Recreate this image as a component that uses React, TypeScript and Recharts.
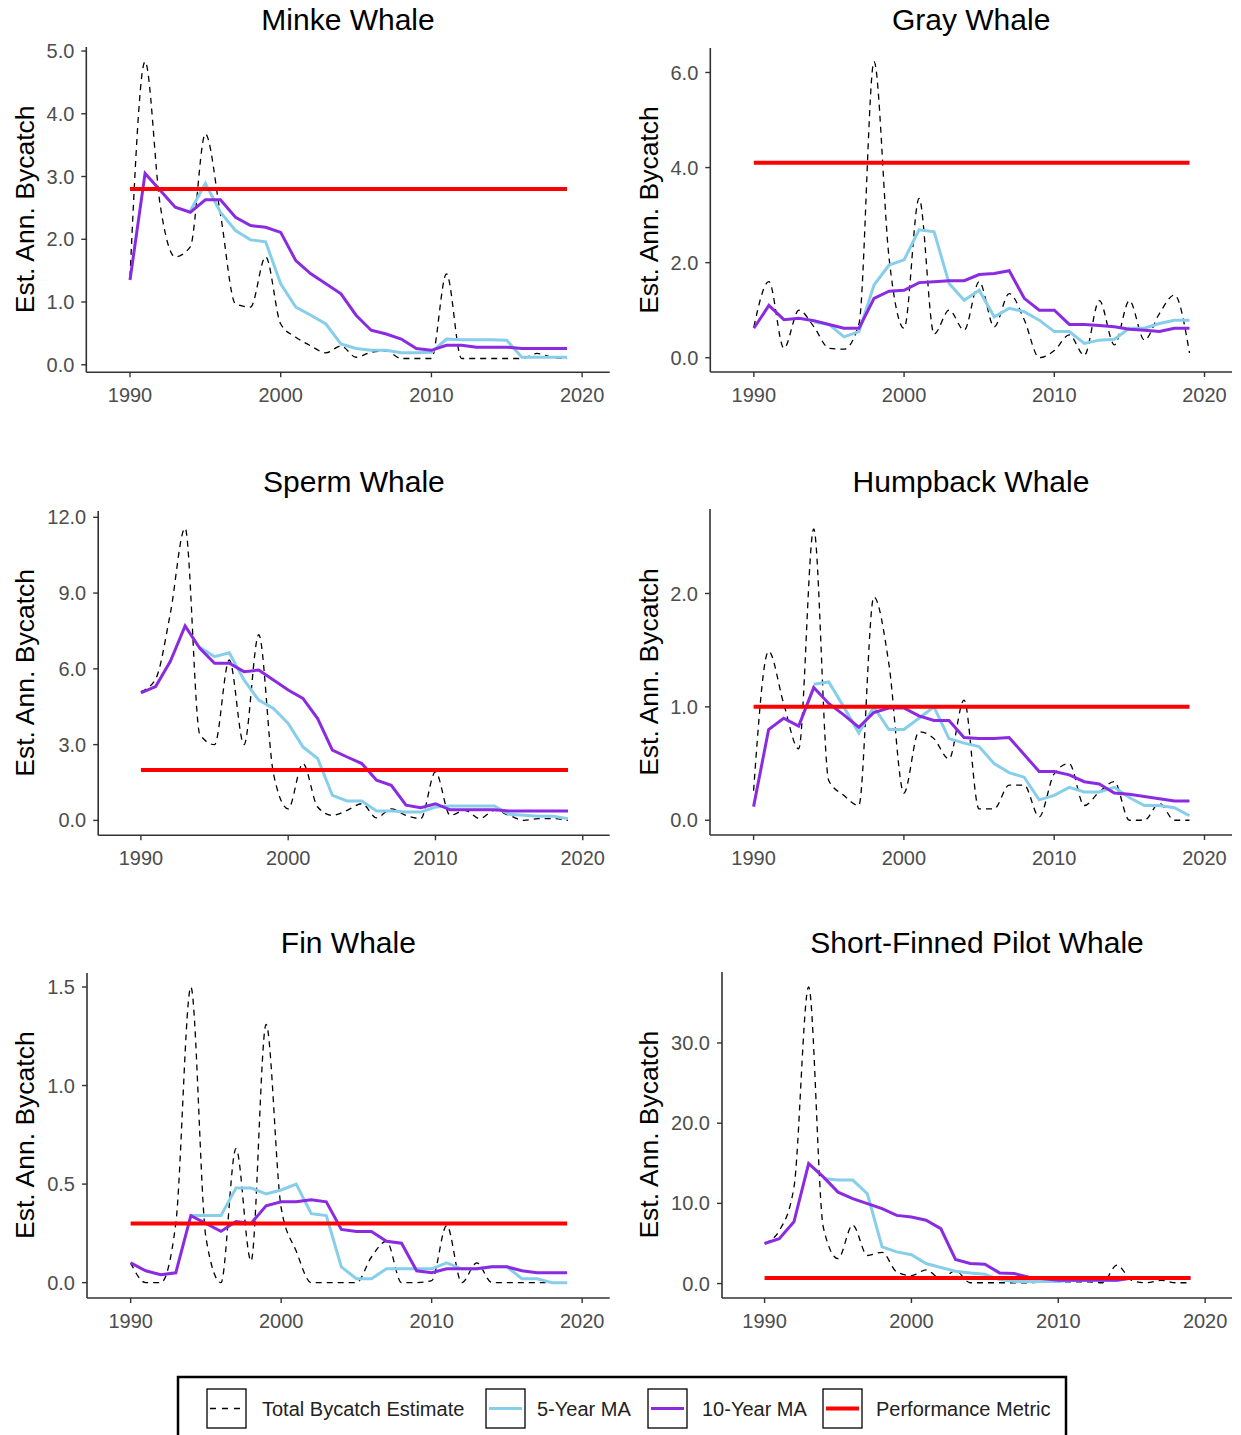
import React from 'react';
import { LineChart, Line, XAxis, YAxis } from 'recharts';

const years = [
  1990, 1991, 1992, 1993, 1994, 1995, 1996, 1997, 1998, 1999,
  2000, 2001, 2002, 2003, 2004, 2005, 2006, 2007, 2008, 2009,
  2010, 2011, 2012, 2013, 2014, 2015, 2016, 2017, 2018, 2019,
];
const xTicks = [1990, 2000, 2010, 2020];

// Minke Whale
const minkeTotal = [1.4, 4.83, 2.55, 1.72, 1.88, 3.68, 2.4, 0.97, 0.92, 1.72, 0.65, 0.44, 0.3, 0.19, 0.3, 0.12, 0.2, 0.22, 0.1, 0.1, 0.1, 1.45, 0.1, 0.1, 0.1, 0.1, 0.1, 0.18, 0.12, 0.1];
const minkeMA5 = [null, null, null, null, 2.45, 2.89, 2.43, 2.14, 1.99, 1.96, 1.29, 0.92, 0.79, 0.65, 0.33, 0.26, 0.23, 0.23, 0.19, 0.19, 0.2, 0.41, 0.4, 0.4, 0.4, 0.39, 0.12, 0.12, 0.12, 0.12];
const minkeMA10 = [1.35, 3.05, 2.78, 2.51, 2.43, 2.63, 2.63, 2.35, 2.22, 2.19, 2.11, 1.66, 1.45, 1.29, 1.13, 0.79, 0.55, 0.49, 0.41, 0.26, 0.23, 0.31, 0.31, 0.28, 0.28, 0.28, 0.26, 0.26, 0.26, 0.26];
const minkeMetric = 2.8;
const minkeTicks = [0, 1, 2, 3, 4, 5];

// Gray Whale
const grayTotal = [0.65, 1.6, 0.2, 1.0, 0.65, 0.2, 0.18, 0.72, 6.23, 2.1, 0.62, 3.35, 0.5, 1.0, 0.58, 1.6, 0.65, 1.35, 0.8, 0.0, 0.15, 0.48, 0.05, 1.2, 0.27, 1.2, 0.37, 0.93, 1.32, 0.1];
const grayMA5 = [null, null, null, null, 0.75, 0.7, 0.44, 0.55, 1.53, 1.95, 2.06, 2.69, 2.65, 1.56, 1.21, 1.42, 0.86, 1.04, 0.97, 0.79, 0.55, 0.55, 0.3, 0.37, 0.39, 0.62, 0.62, 0.72, 0.79, 0.79];
const grayMA10 = [0.62, 1.1, 0.8, 0.83, 0.78, 0.7, 0.62, 0.62, 1.25, 1.4, 1.42, 1.58, 1.6, 1.62, 1.62, 1.75, 1.77, 1.83, 1.25, 1.0, 1.0, 0.7, 0.7, 0.68, 0.65, 0.6, 0.58, 0.55, 0.62, 0.62];
const grayMetric = 4.1;
const grayTicks = [0, 2, 4, 6];

// Sperm Whale
const spermTotal = [5.1, 5.6, 8.2, 11.57, 3.4, 3.0, 6.35, 3.0, 7.35, 1.85, 0.46, 2.25, 0.53, 0.2, 0.4, 0.66, 0.1, 0.46, 0.2, 0.07, 1.92, 0.2, 0.4, 0.07, 0.4, 0.2, 0.0, 0.07, 0.07, 0.0];
const spermMA5 = [null, null, null, null, 6.85, 6.48, 6.64, 5.56, 4.76, 4.43, 3.84, 2.91, 2.45, 0.99, 0.77, 0.77, 0.37, 0.37, 0.33, 0.33, 0.53, 0.57, 0.57, 0.57, 0.57, 0.24, 0.2, 0.16, 0.16, 0.07];
const spermMA10 = [5.05, 5.3, 6.3, 7.7, 6.81, 6.22, 6.22, 5.89, 5.95, 5.56, 5.16, 4.83, 4.03, 2.78, 2.51, 2.25, 1.59, 1.39, 0.6, 0.5, 0.66, 0.42, 0.42, 0.42, 0.42, 0.37, 0.37, 0.37, 0.37, 0.37];
const spermMetric = 2.0;
const spermTicks = [0, 3, 6, 9, 12];

// Humpback Whale
const humpbackTotal = [0.26, 1.49, 1.03, 0.63, 2.57, 0.35, 0.22, 0.13, 1.97, 1.38, 0.24, 0.78, 0.72, 0.54, 1.06, 0.1, 0.1, 0.31, 0.31, 0.03, 0.41, 0.5, 0.13, 0.25, 0.34, 0.0, 0.0, 0.15, 0.0, 0.0];
const humpbackMA5 = [null, null, null, null, 1.2, 1.22, 1.0, 0.77, 1.0, 0.8, 0.8, 0.9, 1.0, 0.72, 0.68, 0.65, 0.5, 0.42, 0.38, 0.18, 0.22, 0.29, 0.25, 0.25, 0.29, 0.2, 0.13, 0.13, 0.11, 0.04];
const humpbackMA10 = [0.12, 0.8, 0.9, 0.83, 1.17, 1.03, 0.93, 0.82, 0.95, 0.99, 0.99, 0.92, 0.88, 0.88, 0.73, 0.72, 0.72, 0.73, 0.58, 0.43, 0.43, 0.4, 0.34, 0.32, 0.24, 0.23, 0.21, 0.19, 0.17, 0.17];
const humpbackMetric = 1.0;
const humpbackTicks = [0, 1, 2];

// Fin Whale
const finTotal = [0.1, 0.0, 0.0, 0.3, 1.5, 0.23, 0.0, 0.68, 0.11, 1.31, 0.38, 0.16, 0.0, 0.0, 0.0, 0.0, 0.13, 0.21, 0.0, 0.0, 0.01, 0.29, 0.0, 0.1, 0.0, 0.0, 0.0, 0.0, 0.0, 0.0];
const finMA5 = [null, null, null, null, 0.34, 0.34, 0.34, 0.48, 0.48, 0.45, 0.47, 0.5, 0.35, 0.34, 0.08, 0.02, 0.02, 0.07, 0.07, 0.07, 0.07, 0.1, 0.07, 0.07, 0.08, 0.08, 0.02, 0.02, 0.0, 0.0];
const finMA10 = [0.1, 0.06, 0.04, 0.05, 0.34, 0.3, 0.26, 0.31, 0.3, 0.39, 0.41, 0.41, 0.42, 0.41, 0.27, 0.26, 0.26, 0.21, 0.2, 0.06, 0.05, 0.07, 0.07, 0.07, 0.08, 0.08, 0.06, 0.05, 0.05, 0.05];
const finMetric = 0.3;
const finTicks = [0, 0.5, 1, 1.5];

// Short-Finned Pilot Whale
const pilotTotal = [5.0, 6.6, 12.0, 37.0, 7.0, 3.1, 7.3, 3.5, 3.9, 1.45, 1.0, 1.7, 0.6, 1.6, 0.1, 0.1, 0.1, 0.1, 0.1, 0.2, 0.2, 0.2, 0.2, 0.1, 2.3, 0.4, 0.1, 0.4, 0.1, 0.1];
const pilotMA5 = [null, null, null, null, 13.1, 12.9, 12.9, 11.2, 4.57, 3.95, 3.6, 2.5, 2.0, 1.54, 1.33, 1.16, 0.5, 0.25, 0.25, 0.25, 0.25, 0.4, 0.4, 0.4, 0.4, 0.7, 0.7, 0.7, 0.7, 0.7];
const pilotMA10 = [5.0, 5.6, 7.7, 14.96, 13.3, 11.4, 10.6, 9.97, 9.35, 8.5, 8.3, 7.9, 6.85, 3.0, 2.5, 2.4, 1.33, 1.25, 0.8, 0.6, 0.4, 0.4, 0.4, 0.4, 0.4, 0.7, 0.7, 0.7, 0.7, 0.7];
const pilotMetric = 0.7;
const pilotTicks = [0, 10, 20, 30];

const FONT = '"Liberation Sans", Arial, Helvetica, sans-serif';
const X_DOMAIN: [number, number] = [1987.1, 2021.83];

const panels = [
  { title: 'Minke Whale', total: minkeTotal, ma5: minkeMA5, ma10: minkeMA10, metric: minkeMetric, yTicks: minkeTicks, yDomain: [-0.12, 5.064] },
  { title: 'Gray Whale', total: grayTotal, ma5: grayMA5, ma10: grayMA10, metric: grayMetric, yTicks: grayTicks, yDomain: [-0.3, 6.515] },
  { title: 'Sperm Whale', total: spermTotal, ma5: spermMA5, ma10: spermMA10, metric: spermMetric, yTicks: spermTicks, yDomain: [-0.59, 12.25] },
  { title: 'Humpback Whale', total: humpbackTotal, ma5: humpbackMA5, ma10: humpbackMA10, metric: humpbackMetric, yTicks: humpbackTicks, yDomain: [-0.13, 2.745] },
  { title: 'Fin Whale', total: finTotal, ma5: finMA5, ma10: finMA10, metric: finMetric, yTicks: finTicks, yDomain: [-0.078, 1.571] },
  { title: 'Short-Finned Pilot Whale', total: pilotTotal, ma5: pilotMA5, ma10: pilotMA10, metric: pilotMetric, yTicks: pilotTicks, yDomain: [-1.8, 38.85] },
];

// pixel layout of each panel on the page
const layout = [
  { col: 0, plotLeft: 86.3, plotRight: 609.7, plotTop: 46.7, plotBottom: 372, titleY: 30 },
  { col: 620, plotLeft: 710.3, plotRight: 1232, plotTop: 48, plotBottom: 372, titleY: 30 },
  { col: 0, plotLeft: 98.2, plotRight: 609.7, plotTop: 510.7, plotBottom: 835, titleY: 491.5 },
  { col: 620, plotLeft: 710, plotRight: 1232, plotTop: 509, plotBottom: 835, titleY: 491.5 },
  { col: 0, plotLeft: 87, plotRight: 609.7, plotTop: 972.7, plotBottom: 1297.7, titleY: 952.5 },
  { col: 620, plotLeft: 722, plotRight: 1232, plotTop: 971.7, plotBottom: 1297.7, titleY: 952.5 },
];

const COL_W = 620;
const TOP_PAD = 10;
const X_AXIS_H = 40;

const tickStyle = { fill: '#4D4D4D', fontSize: 20, fontFamily: FONT };

const Panel = ({ p, l }: { p: typeof panels[number]; l: typeof layout[number] }) => {
  const rows = years.map((year, i) => ({
    year,
    total: p.total[i],
    ma5: p.ma5[i],
    ma10: p.ma10[i],
    metric: p.metric,
  }));
  const height = l.plotBottom - l.plotTop + TOP_PAD + X_AXIS_H;
  return (
    <div style={{ position: 'absolute', left: l.col, top: l.plotTop - TOP_PAD }}>
      <LineChart
        width={COL_W}
        height={height}
        data={rows}
        margin={{ top: TOP_PAD, right: l.col + COL_W - l.plotRight, left: 0, bottom: 0 }}
      >
        <XAxis
          dataKey="year"
          type="number"
          domain={X_DOMAIN}
          ticks={xTicks}
          allowDataOverflow
          height={X_AXIS_H}
          tick={tickStyle}
          tickSize={5}
          tickMargin={11}
          axisLine={{ stroke: '#333333', strokeWidth: 1.6 }}
          tickLine={{ stroke: '#333333', strokeWidth: 1.4 }}
        />
        <YAxis
          type="number"
          domain={p.yDomain}
          ticks={p.yTicks}
          allowDataOverflow
          width={l.plotLeft - l.col}
          tick={tickStyle}
          tickSize={5}
          tickMargin={7}
          tickFormatter={(v: number) => v.toFixed(1)}
          axisLine={{ stroke: '#333333', strokeWidth: 1.6 }}
          tickLine={{ stroke: '#333333', strokeWidth: 1.4 }}
        />
        <Line type="monotone" dataKey="total" stroke="#000000" strokeWidth={1.3} strokeDasharray="6 5" dot={false} isAnimationActive={false} />
        <Line type="linear" dataKey="ma5" stroke="#87CEEB" strokeWidth={3} dot={false} isAnimationActive={false} />
        <Line type="linear" dataKey="ma10" stroke="#8A2BE2" strokeWidth={3} dot={false} isAnimationActive={false} />
        <Line type="linear" dataKey="metric" stroke="#FF0000" strokeWidth={4} dot={false} isAnimationActive={false} />
      </LineChart>
    </div>
  );
};

const legendItems = [
  { label: 'Total Bycatch Estimate', keyX: 207, textX: 262, color: '#000000', width: 1.3, dash: '6 6' },
  { label: '5-Year MA', keyX: 486, textX: 537, color: '#87CEEB', width: 3, dash: undefined },
  { label: '10-Year MA', keyX: 648, textX: 702, color: '#8A2BE2', width: 3, dash: undefined },
  { label: 'Performance Metric', keyX: 823, textX: 876, color: '#FF0000', width: 4, dash: undefined },
];

export default function App() {
  return (
    <div style={{ position: 'absolute', left: 0, top: 0, width: 1241, height: 1435, background: '#ffffff', overflow: 'hidden', fontFamily: FONT }}>
      <svg width={1241} height={1435} style={{ position: 'absolute', left: 0, top: 0 }}>
        {panels.map((p, i) => {
          const l = layout[i];
          const cx = (l.plotLeft + l.plotRight) / 2;
          const cy = (l.plotTop + l.plotBottom) / 2;
          const lx = l.col === 0 ? 25 : 649;
          return (
            <g key={p.title}>
              <text x={cx} y={l.titleY} textAnchor="middle" fontSize={30} fill="#000000" fontFamily={FONT}>
                {p.title}
              </text>
              <text
                x={lx}
                y={cy}
                textAnchor="middle"
                dominantBaseline="central"
                fontSize={26.5}
                fill="#000000"
                fontFamily={FONT}
                transform={`rotate(-90, ${lx}, ${cy})`}
              >
                Est. Ann. Bycatch
              </text>
            </g>
          );
        })}
        <rect x={178} y={1377} width={888} height={70} fill="#ffffff" stroke="#000000" strokeWidth={2.5} />
        {legendItems.map((it) => (
          <g key={it.label}>
            <rect x={it.keyX} y={1389} width={39} height={39} fill="#ffffff" stroke="#000000" strokeWidth={1.3} />
            <line x1={it.keyX + 3} x2={it.keyX + 36} y1={1408.5} y2={1408.5} stroke={it.color} strokeWidth={it.width} strokeDasharray={it.dash} />
            <text x={it.textX} y={1415.5} fontSize={20} fill="#222222" fontFamily={FONT}>
              {it.label}
            </text>
          </g>
        ))}
      </svg>
      {panels.map((p, i) => (
        <Panel key={p.title} p={p} l={layout[i]} />
      ))}
    </div>
  );
}
